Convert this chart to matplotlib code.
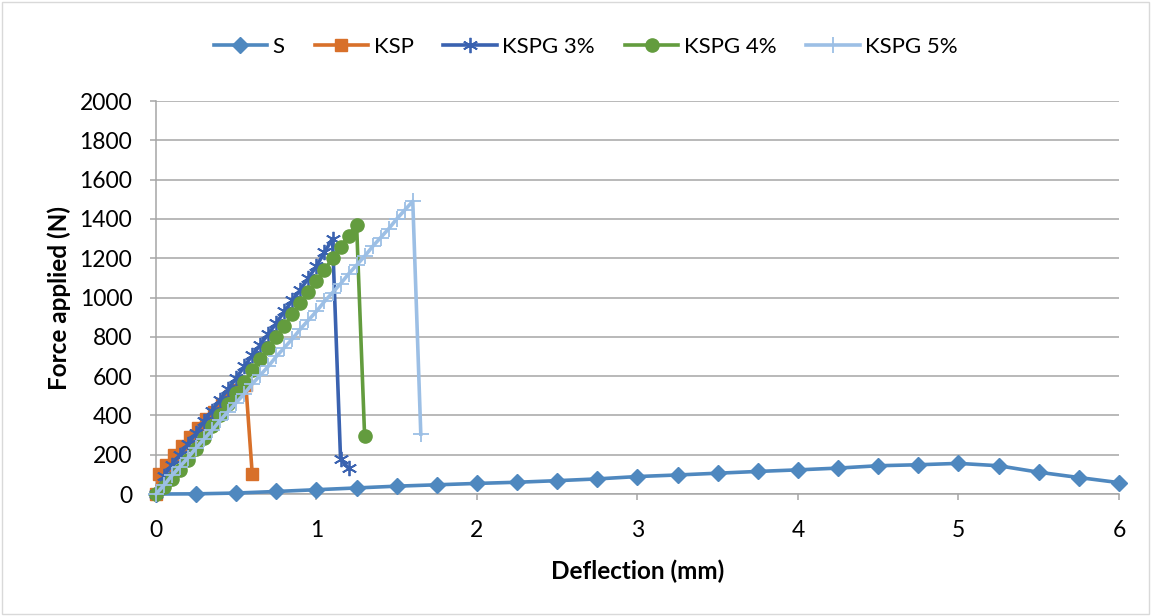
import matplotlib.pyplot as plt
from matplotlib.patches import Rectangle

plt.rcParams['font.family'] = ['Lato', 'DejaVu Sans']

# S (0.25 mm steps)
s_x = [0, 0.25, 0.5, 0.75, 1.0, 1.25, 1.5, 1.75, 2.0, 2.25, 2.5, 2.75, 3.0,
       3.25, 3.5, 3.75, 4.0, 4.25, 4.5, 4.75, 5.0, 5.25, 5.5, 5.75, 6.0]
s_y = [0, 1, 5, 13, 22, 31, 40, 47, 54, 60, 68, 77, 89,
       97, 106, 115, 123, 132, 144, 149, 156, 144, 111, 84, 58]

# KSP
ksp_x = [0, 0.02, 0.06, 0.11, 0.16, 0.21, 0.26, 0.31, 0.36, 0.41, 0.46, 0.51, 0.56, 0.6]
ksp_y = [0, 100, 150, 200, 245, 290, 335, 380, 420, 460, 500, 530, 555, 100]

# KSPG 3%
k3_x = [0, 0.05, 0.1, 0.15, 0.2, 0.25, 0.3, 0.35, 0.4, 0.45, 0.5, 0.55, 0.6,
        0.65, 0.7, 0.75, 0.8, 0.85, 0.9, 0.95, 1.0, 1.05, 1.1, 1.15, 1.2]
k3_y = [0, 90, 150, 200, 255, 310, 370, 425, 480, 535, 590, 650, 705,
        760, 815, 870, 930, 985, 1040, 1100, 1160, 1230, 1300, 180, 130]

# KSPG 4%
k4_x = [0, 0.05, 0.1, 0.15, 0.2, 0.25, 0.3, 0.35, 0.4, 0.45, 0.5, 0.55, 0.6,
        0.65, 0.7, 0.75, 0.8, 0.85, 0.9, 0.95, 1.0, 1.05, 1.1, 1.15, 1.2, 1.25, 1.3]
k4_y = [0, 35, 75, 120, 175, 230, 285, 345, 400, 460, 515, 570, 630,
        685, 745, 800, 855, 915, 970, 1030, 1085, 1140, 1200, 1255, 1315, 1370, 295]

# KSPG 5%
k5_x = [0, 0.05, 0.1, 0.15, 0.2, 0.25, 0.3, 0.35, 0.4, 0.45, 0.5, 0.55, 0.6,
        0.65, 0.7, 0.75, 0.8, 0.85, 0.9, 0.95, 1.0, 1.05, 1.1, 1.15, 1.2,
        1.25, 1.3, 1.35, 1.4, 1.45, 1.5, 1.55, 1.6, 1.65]
k5_y = [0, 45, 95, 140, 185, 235, 280, 325, 375, 420, 465, 510, 560,
        605, 650, 700, 745, 790, 840, 885, 930, 980, 1025, 1070, 1120,
        1165, 1210, 1260, 1305, 1350, 1400, 1445, 1490, 305]

fig = plt.figure(figsize=(11.51, 6.16), dpi=100)
ax = fig.add_axes([0.1355, 0.198, 0.8367, 0.638])

# chart border
fig.patches.append(Rectangle((0.002, 0.003), 0.996, 0.994, transform=fig.transFigure,
                             fill=False, edgecolor='#D9D9D9', linewidth=1))

lw = 2.6
ax.plot(s_x, s_y, color='#4F88BF', lw=lw, marker='D', ms=8, label='S',
        zorder=3, clip_on=False)
ax.plot(ksp_x, ksp_y, color='#D8702A', lw=lw, marker='s', ms=8.5, label='KSP',
        zorder=3, clip_on=False)
ax.plot(k3_x, k3_y, color='#3A62B0', lw=lw, marker=(6, 2, 0), ms=11, mew=1.3,
        label='KSPG 3%', zorder=4, clip_on=False)
ax.plot(k4_x, k4_y, color='#639C3E', lw=lw, marker='o', ms=9.5, label='KSPG 4%',
        zorder=4, clip_on=False)
ax.plot(k5_x, k5_y, color='#9CBFE5', lw=lw, marker='+', ms=11, mew=1.3,
        label='KSPG 5%', zorder=5, clip_on=False)

ax.set_xlim(0, 6)
ax.set_ylim(0, 2000)
ax.set_yticks(range(0, 2001, 200))
ax.set_xticks(range(0, 7))
ax.grid(axis='y', color='#A6A6A6', lw=1.1)
ax.set_axisbelow(True)
for side in ['top', 'right']:
    ax.spines[side].set_visible(False)
for side in ['left', 'bottom']:
    ax.spines[side].set_color('#A6A6A6')
    ax.spines[side].set_linewidth(1.1)
ax.tick_params(axis='both', colors='#A6A6A6', length=4, width=1.1, labelsize=16.5,
               labelcolor='black')
ax.tick_params(axis='x', pad=15)
ax.tick_params(axis='y', pad=13)

ax.set_xlabel('Deflection (mm)', fontsize=17.5, fontweight='bold', labelpad=13)
ax.set_ylabel('Force applied (N)', fontsize=17.5, fontweight='bold', labelpad=6)

fig.legend(loc='center', bbox_to_anchor=(0.509, 0.924), ncol=5, frameon=False,
           fontsize=16, handlelength=2.4, columnspacing=1.35, handletextpad=0.25)

fig.savefig('out.png', dpi=100)
